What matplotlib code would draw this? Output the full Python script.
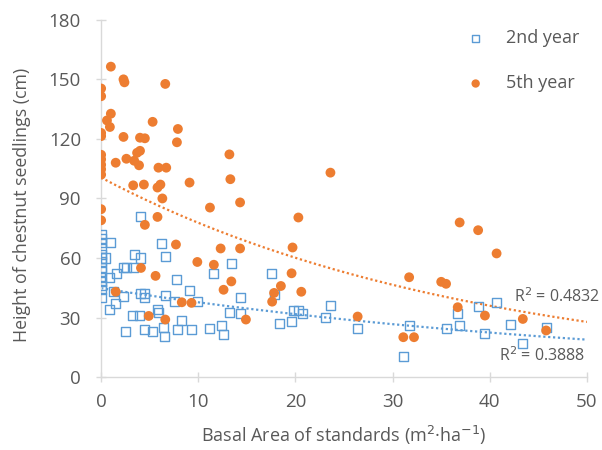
import matplotlib.pyplot as plt
import numpy as np

plt.rcParams['font.family'] = ['Open Sans', 'DejaVu Sans']

# basal area of standards (m2/ha) and seedling height (cm), 2nd year
ba_2nd = [0, 0, 0, 0, 0, 0, 0, 0, 0, 0, 0, 0, 0, 0,
          1.0, 0.5, 0.9, 1.6, 0.9, 1.3, 1.5, 2.3, 2.6, 3.3, 2.3, 3.4, 4.0, 4.0,
          4.0, 4.5, 4.5, 3.2, 3.9, 2.5, 4.5, 5.3, 5.8, 5.9, 6.2, 6.6, 6.6, 7.8,
          7.6, 7.9, 8.3, 9.3, 9.1, 9.9, 6.4, 6.5, 11.6, 11.2, 12.4, 12.6, 13.2,
          13.4, 14.3, 14.3, 17.5, 17.8, 18.4, 19.6, 19.8, 20.3, 20.7, 23.1, 23.6,
          26.4, 31.1, 31.7, 35.5, 36.7, 36.9, 38.8, 39.5, 40.7, 42.1, 43.4, 45.8]
h_2nd = [72, 70, 68, 65, 62, 60, 58, 55, 53, 50, 48, 46, 44, 40,
         68, 60, 50, 52, 34, 43, 37, 55, 55, 55, 40.5, 61.6, 80.7, 60,
         42, 42, 40, 31, 31, 23, 24, 23, 34, 32.7, 67.5, 60.6, 41, 49,
         38, 23.8, 28.5, 23.8, 43.5, 38, 24.8, 20.4, 52.4, 24.6, 26, 21.4, 32.5,
         57.3, 40.2, 31.8, 52, 41.4, 27.1, 28, 33.5, 33.8, 31.8, 30.2, 36,
         24.6, 10.4, 26, 24.6, 32.2, 26, 35.5, 22.1, 37.4, 26.5, 17.1, 25.1]

# 5th year
ba_5th = [1.0, 0, 0, 2.3, 2.4, 6.6, 1.0, 0.6, 0.9, 5.3, 0, 0, 2.3, 4.0, 4.5,
          7.9, 7.8, 0, 0, 0, 0, 0, 1.5, 2.6, 3.4, 3.7, 4.0, 3.9, 3.3, 4.4,
          5.9, 6.7, 5.8, 6.1, 6.3, 9.1, 13.2, 13.3, 14.3, 11.2, 23.6, 0, 0,
          5.8, 4.5, 20.3, 36.9, 38.8, 40.7, 7.7, 12.3, 14.3, 19.7, 9.9, 11.6,
          4.1, 5.6, 13.4, 19.6, 18.5, 17.8, 17.6, 20.6, 12.6, 1.5, 8.3, 9.3,
          31.7, 35.0, 35.5, 36.7, 39.5, 43.4, 45.8, 26.4, 31.1, 32.2, 14.9,
          6.6, 4.9]
h_5th = [156.4, 145.4, 141.5, 150, 148.5, 147.7, 132.7, 129.3, 126, 128.6,
         123, 121.4, 121, 120.6, 120.3, 125, 118.3, 112, 109.7, 107, 104.7, 102,
         108, 110, 109, 113, 114, 106.7, 96.6, 97, 105.5, 105.5, 95.5, 97, 90,
         98, 112.2, 99.7, 88, 85.4, 103, 84.6, 79, 80.7, 76.7, 80.4, 77.9, 74,
         62.3, 66.8, 64.8, 64.8, 65.3, 58, 56.6, 55, 51, 48.2, 52.3, 45.9, 42.4,
         38, 43, 44, 43, 37.7, 37.4, 50.3, 48, 47, 35.2, 31, 29.3, 23.5, 30.5,
         20.1, 20.1, 29, 29, 30.8]

# exponential trendlines y = a * exp(b * x)
trend_2nd = (44.8, -0.0173)
trend_5th = (100.5, -0.0257)
r2_2nd = 0.3888
r2_5th = 0.4832

blue = '#5B9BD5'
orange = '#ED7D31'
grid_grey = '#D9D9D9'
text_grey = '#595959'

fig = plt.figure(figsize=(6.02, 4.5), dpi=100)
ax = fig.add_axes([0.168, 0.162, 0.807, 0.794])

ax.scatter(ba_2nd, h_2nd, marker='s', s=42, facecolors='none',
           edgecolors=blue, linewidths=1.0, label='2nd year', zorder=3)
ax.scatter(ba_5th, h_5th, marker='o', s=50, color=orange,
           edgecolors='none', label='5th year', zorder=3)

xs = np.linspace(0, 50, 200)
ax.plot(xs, trend_2nd[0] * np.exp(trend_2nd[1] * xs), ls=(0, (1, 1.2)),
        color=blue, lw=1.6, zorder=2)
ax.plot(xs, trend_5th[0] * np.exp(trend_5th[1] * xs), ls=(0, (1, 1.2)),
        color=orange, lw=1.6, zorder=2)

ax.text(51.4, 40.3, 'R$^2$ = %.4f' % r2_5th, fontsize=11.5, color=text_grey,
        ha='right', va='center', clip_on=False)
ax.text(49.8, 10.6, 'R$^2$ = %.4f' % r2_2nd, fontsize=11.5, color=text_grey,
        ha='right', va='center')

ax.set_xlim(0, 50)
ax.set_ylim(0, 180)
ax.set_xticks(range(0, 51, 10))
ax.set_yticks(range(0, 181, 30))

for side in ['top', 'right']:
    ax.spines[side].set_visible(False)
for side in ['left', 'bottom']:
    ax.spines[side].set_color(grid_grey)
    ax.spines[side].set_linewidth(1.0)
ax.tick_params(direction='inout', length=7, width=1.0, color=grid_grey,
               labelcolor=text_grey, labelsize=13.5)
ax.tick_params(axis='y', pad=11)
ax.tick_params(axis='x', pad=8)

ax.set_xlabel('Basal Area of standards (m$^2$·ha$^{-1}$)', fontsize=13,
              color=text_grey)
ax.xaxis.set_label_coords(0.5, -0.13)
ax.set_ylabel('Height of chestnut seedlings (cm)', fontsize=12.8,
              color=text_grey)
ax.yaxis.set_label_coords(-0.145, 0.482)

ax.legend(loc='upper right', frameon=False, fontsize=13, labelcolor=text_grey,
          labelspacing=1.5, handletextpad=0.7, borderaxespad=0.0,
          markerscale=0.85, bbox_to_anchor=(1.0, 0.994))

fig.savefig('out.png', dpi=100)
